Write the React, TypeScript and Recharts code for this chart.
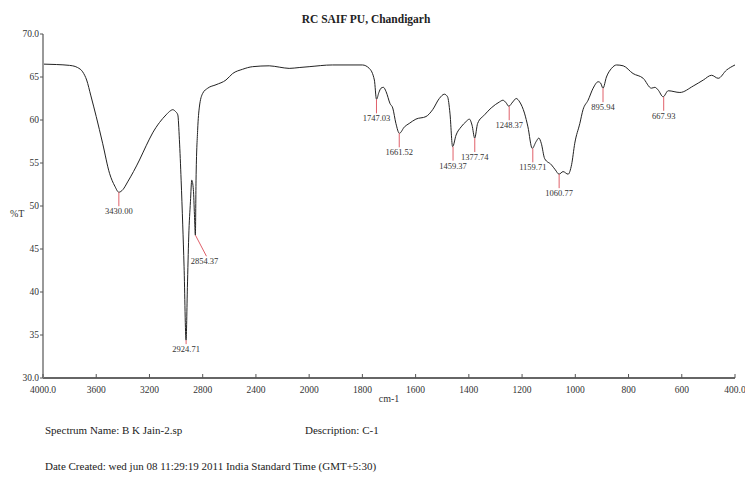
import React from 'react';
import { ComposedChart, Line, Scatter, XAxis, YAxis } from 'recharts';

// wavenumber (cm-1) and %T
const wavenumbers = [
  4000, 3900, 3800, 3777, 3740, 3702, 3672, 3640, 3600, 3552, 3500, 3460, 3430, 3400, 3364, 3320,
  3275, 3225, 3176, 3125, 3075, 3040, 3025, 3005, 2987, 2975, 2962, 2950, 2940, 2925, 2915, 2905,
  2892, 2882, 2870, 2862, 2855, 2850, 2838, 2825, 2800, 2762, 2700, 2625, 2575, 2500, 2425, 2300,
  2225, 2150, 2075, 2000, 1913, 1800, 1774, 1755, 1747, 1738, 1730, 1721, 1711, 1696, 1686, 1674,
  1661, 1642, 1624, 1599, 1561, 1536, 1511, 1492, 1480, 1471, 1461, 1448, 1429, 1411, 1398, 1388,
  1378, 1367, 1341, 1316, 1285, 1272, 1260, 1250, 1235, 1222, 1209, 1191, 1178, 1162, 1147, 1137,
  1128, 1115, 1090, 1075, 1061, 1046, 1027, 1014, 1002, 983, 971, 952, 933, 914, 905, 896,
  883, 864, 845, 820, 783, 745, 714, 701, 689, 670, 651, 607, 557, 519, 488, 463,
  432, 400,
];
const transmittance = [
  66.5, 66.45, 66.35, 66.3, 66.1, 65.6, 64.65, 62.8, 60.4, 57.3, 53.8, 52.3, 51.6, 51.9, 52.8, 54.0,
  55.35, 57.0, 58.5, 59.7, 60.6, 61.1, 61.2, 61.0, 60.6, 57.7, 53.0, 47.8, 43.0, 34.4, 40.5, 46.4,
  50.5, 53.0, 51.9, 49.0, 46.6, 53.0, 58.8, 61.5, 63.1, 63.7, 64.1, 64.65, 65.4, 65.9, 66.2, 66.3,
  66.15, 66.0, 66.1, 66.2, 66.4, 66.4, 66.0, 64.65, 62.4, 63.2, 63.7, 63.8, 63.3, 61.9, 61.4, 59.6,
  58.45, 59.2, 59.6, 60.1, 60.4, 61.2, 62.5, 63.0, 62.7, 60.8, 56.9, 58.25, 59.2, 59.8, 60.1, 59.4,
  57.9, 59.6, 60.6, 61.4, 62.1, 62.3, 62.0, 61.6, 62.1, 62.5, 62.1, 60.8, 59.2, 56.7, 57.5, 57.9,
  57.3, 55.5, 54.8, 54.2, 53.7, 54.0, 53.7, 54.8, 57.3, 59.6, 61.2, 62.3, 63.7, 64.45, 64.3, 63.7,
  65.0, 66.0, 66.4, 66.3, 65.4, 64.85, 63.7, 63.8, 63.5, 62.7, 63.4, 63.2, 63.95, 64.65, 65.2, 64.85,
  65.8, 66.4,
];

const peakLabels = ['3430.00', '2924.71', '2854.37', '1747.03', '1661.52', '1459.37', '1377.74', '1248.37', '1159.71', '1060.77', '895.94', '667.93'];
const peakValues = [51.6, 34.4, 46.6, 62.4, 58.45, 56.9, 57.9, 61.6, 56.7, 53.7, 63.7, 62.7];

const xTicks = [4000, 3600, 3200, 2800, 2400, 2000, 1800, 1600, 1400, 1200, 1000, 800, 600, 400];
const yTicks = [30, 35, 40, 45, 50, 55, 60, 65, 70];

// the instrument plots 4000-2000 at half the scale of 2000-400
const toAxis = (w: number) => (w >= 2000 ? (4000 - w) / 2 : 1000 + (2000 - w));

const spectrum = wavenumbers.map((w, i) => ({ u: toAxis(w), t: transmittance[i] }));
const peaks = peakLabels.map((l, i) => ({ u: toAxis(parseFloat(l)), t: peakValues[i], label: l }));

const FONT = '"Liberation Serif", "DejaVu Serif", serif';

// leader line end offset [dx, dy] for the odd ones
const leaders: Record<string, [number, number]> = {
  '2924.71': [0, 4],
  '2854.37': [11, 21],
};

const PeakMark = (props: any) => {
  const { cx, cy, payload } = props;
  if (cx == null || cy == null) return null;
  const [dx, dy] = leaders[payload.label] || [0, 14];
  return (
    <g>
      <line x1={cx} y1={cy} x2={cx + dx} y2={cy + dy} stroke="#e0606a" strokeWidth={1} />
      <text x={cx + dx - (dx ? 2 : 0)} y={cy + dy + 8} textAnchor="middle" fontSize={8.5} fontFamily={FONT} fill="#333">
        {payload.label}
      </text>
    </g>
  );
};

const XTick = (props: any) => {
  const { x, y, payload } = props;
  const w = xTicks.find((v) => toAxis(v) === payload.value);
  const txt = w === 4000 || w === 400 ? `${w}.0` : `${w}`;
  return (
    <g>
      <line x1={x} x2={x} y1={y} y2={y - 4} stroke="#555" />
      <text x={x} y={y + 15} textAnchor="middle" fontSize={9.5} fontFamily={FONT} fill="#333">
        {txt}
      </text>
    </g>
  );
};

export default function App() {
  return (
    <div style={{ position: 'absolute', left: 0, top: 0, width: 745, height: 479, background: '#fff', fontFamily: FONT, color: '#222' }}>
      <div style={{ position: 'absolute', left: 0, width: 732, top: 13, textAlign: 'center', fontSize: 11.5, fontWeight: 'bold' }}>
        RC SAIF PU, Chandigarh
      </div>
      <ComposedChart width={745} height={479} margin={{ top: 34, right: 10, bottom: 0, left: 0 }}>
        <XAxis
          dataKey="u"
          type="number"
          domain={[0, 2600]}
          ticks={xTicks.map(toAxis)}
          interval={0}
          allowDataOverflow
          height={101}
          tickSize={0}
          tickMargin={0}
          tickLine={false}
          tick={<XTick />}
          axisLine={{ stroke: '#333', strokeWidth: 1.5 }}
          label={{ value: 'cm-1', position: 'insideTop', offset: 17, fontSize: 10, fontFamily: FONT, fill: '#333' }}
        />
        <YAxis
          dataKey="t"
          type="number"
          domain={[30, 70]}
          ticks={yTicks}
          interval={0}
          width={43}
          tickSize={3}
          tickMargin={1}
          tickFormatter={(v: number) => (v === 30 || v === 70 ? v.toFixed(1) : String(v))}
          tick={{ fontSize: 9.5, fontFamily: FONT, fill: '#333' }}
          tickLine={{ stroke: '#555' }}
          axisLine={{ stroke: '#999', strokeWidth: 2 }}
          label={{ value: '%T', position: 'insideLeft', offset: 10, dy: 7, fontSize: 10, fontFamily: FONT, fill: '#333' }}
        />
        <Line data={spectrum} dataKey="t" type="monotone" stroke="#222" strokeWidth={1} dot={false} isAnimationActive={false} />
        <Scatter data={peaks} dataKey="t" shape={<PeakMark />} isAnimationActive={false} />
      </ComposedChart>
      <div style={{ position: 'absolute', left: 45, top: 424, fontSize: 11 }}>Spectrum Name: B K Jain-2.sp</div>
      <div style={{ position: 'absolute', left: 305, top: 424, fontSize: 11 }}>Description: C-1</div>
      <div style={{ position: 'absolute', left: 45, top: 460, fontSize: 11 }}>
        Date Created: wed jun 08 11:29:19 2011 India Standard Time (GMT+5:30)
      </div>
    </div>
  );
}
